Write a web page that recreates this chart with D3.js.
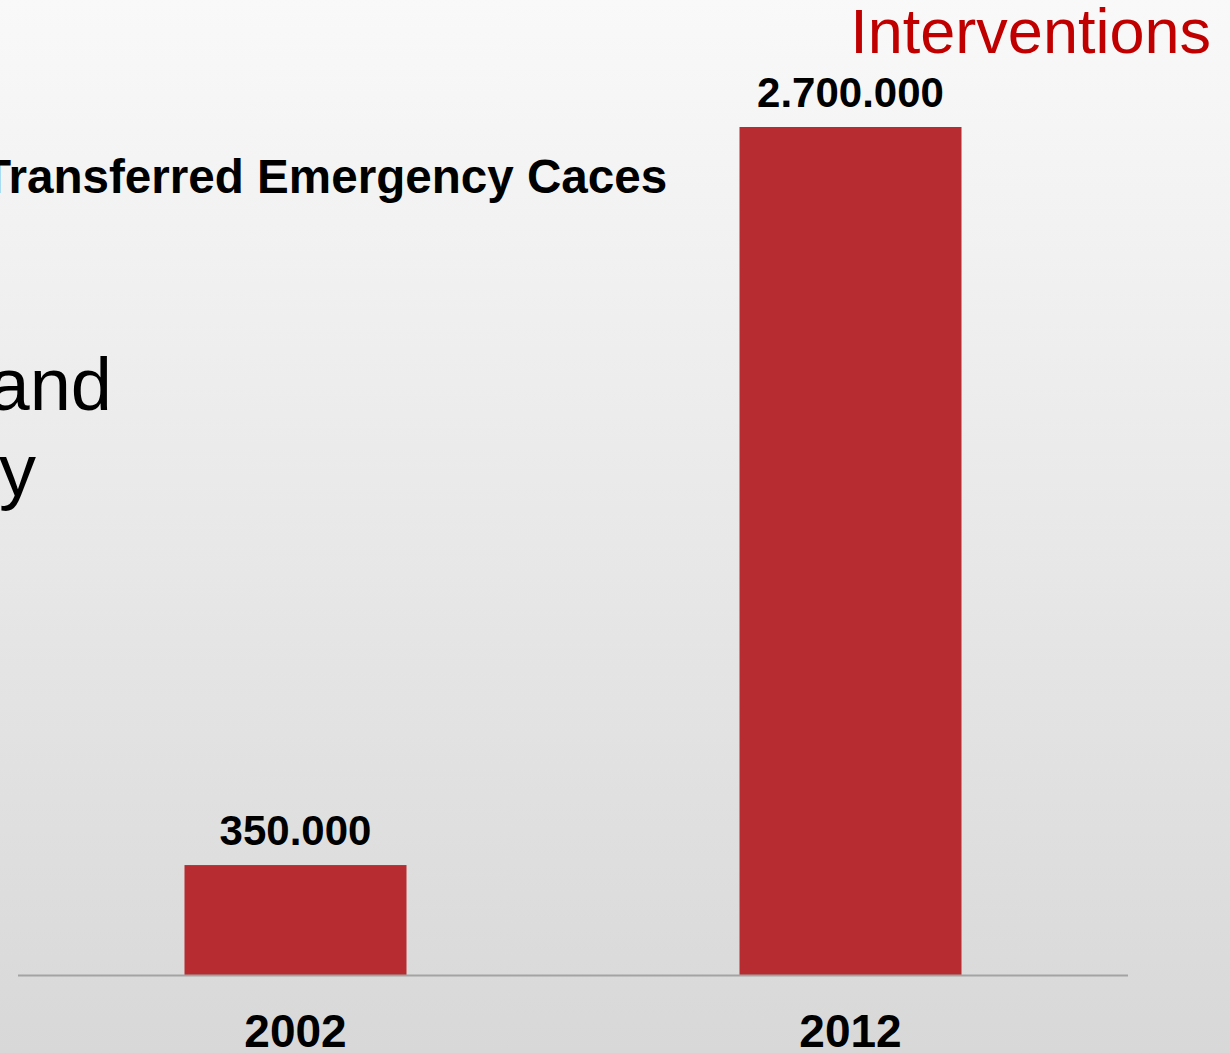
<!DOCTYPE html>
<html>
<head>
<meta charset="utf-8">
<script src="https://cdn.jsdelivr.net/npm/d3@7"></script>
<style>
  html, body { margin: 0; padding: 0; overflow: hidden; }
  svg { display: block; font-family: "Liberation Sans", Arial, sans-serif; }
</style>
</head>
<body>
<svg id="chart" width="1230" height="1053"></svg>
<script>
// Yearly figures for transferred emergency cases
const years = ["2002", "2012"];
const cases = [350000, 2700000];
const valueLabels = ["350.000", "2.700.000"];

const title = "Interventions";
const subtitle = "Transferred Emergency Caces";
const sideLines = ["and", "y"];

const W = 1230, H = 1053;
const svg = d3.select("#chart");

// Slide background: soft vertical gradient
const defs = svg.append("defs");
const grad = defs.append("linearGradient")
  .attr("id", "bg").attr("x1", 0).attr("y1", 0).attr("x2", 0).attr("y2", 1);
grad.append("stop").attr("offset", "0%").attr("stop-color", "#f9f9f9");
grad.append("stop").attr("offset", "100%").attr("stop-color", "#d8d8d8");
svg.append("rect").attr("width", W).attr("height", H).attr("fill", "url(#bg)");

// Scales
const x = d3.scaleBand()
  .domain(years)
  .range([18, 1128])
  .paddingInner(0.6)
  .paddingOuter(0.3);

const y = d3.scaleLinear()
  .domain([0, 2700000])
  .range([975, 127]);

const data = years.map((yr, i) => ({ year: yr, value: cases[i], label: valueLabels[i] }));

// Bars
svg.append("g").selectAll("rect")
  .data(data)
  .join("rect")
  .attr("x", d => x(d.year))
  .attr("y", d => y(d.value))
  .attr("width", x.bandwidth())
  .attr("height", d => y(0) - y(d.value))
  .attr("fill", "#b72c31");

// Value labels above bars
svg.append("g").selectAll("text")
  .data(data)
  .join("text")
  .attr("x", d => x(d.year) + x.bandwidth() / 2)
  .attr("y", d => y(d.value) - 20)
  .attr("text-anchor", "middle")
  .attr("font-size", 42)
  .attr("font-weight", "bold")
  .attr("fill", "#000")
  .text(d => d.label);

// Category axis: baseline plus year labels
const xAxis = d3.axisBottom(x).tickSize(0).tickPadding(0);
const axisG = svg.append("g")
  .attr("transform", `translate(0,${y(0)})`)
  .call(xAxis);
axisG.select(".domain")
  .attr("d", `M18,0.5H1128`)
  .attr("stroke", "#a3a3a3")
  .attr("stroke-width", 2);
axisG.selectAll(".tick text")
  .attr("y", 72)
  .attr("dy", 0)
  .attr("font-size", 46)
  .attr("font-weight", "bold")
  .attr("font-family", "\"Liberation Sans\", Arial, sans-serif")
  .attr("fill", "#000");

// Slide title (top right)
svg.append("text")
  .attr("x", 1211)
  .attr("y", 53)
  .attr("text-anchor", "end")
  .attr("font-size", 63)
  .attr("fill", "#c00000")
  .text(title);

// Series caption
svg.append("text")
  .attr("x", -18)
  .attr("y", 193)
  .attr("font-size", 47.6)
  .attr("font-weight", "bold")
  .attr("fill", "#000")
  .text(subtitle);

// Large side text running off the left edge
svg.append("g").selectAll("text")
  .data(sideLines)
  .join("text")
  .attr("x", (d, i) => i === 0 ? 112 : 36)
  .attr("y", (d, i) => i === 0 ? 410 : 496)
  .attr("text-anchor", "end")
  .attr("font-size", 74)
  .attr("fill", "#000")
  .text(d => d);
</script>
</body>
</html>
